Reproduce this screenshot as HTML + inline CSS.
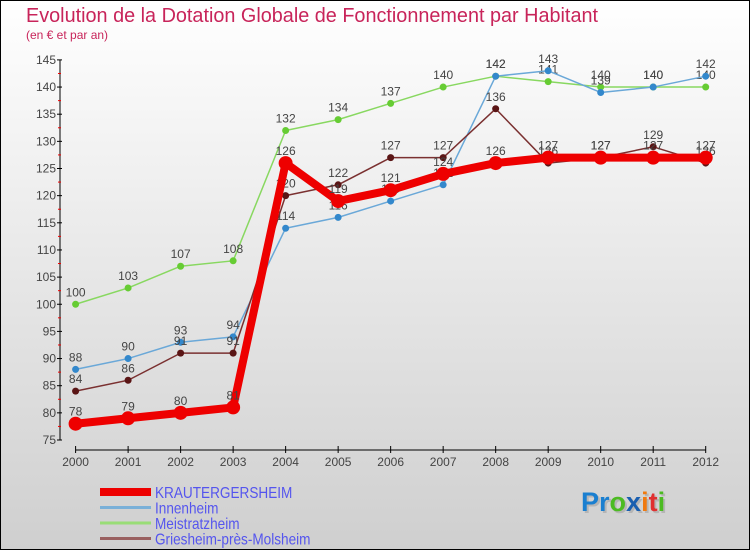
<!DOCTYPE html>
<html><head><meta charset="utf-8"><style>
body{margin:0;width:750px;height:550px;overflow:hidden;font-family:"Liberation Sans",sans-serif}
svg{display:block}
</style></head><body>
<svg width="750" height="550" xmlns="http://www.w3.org/2000/svg">
<defs><linearGradient id="bg" x1="0" y1="0" x2="0" y2="1"><stop offset="0" stop-color="#ffffff"/><stop offset="1" stop-color="#cfcfcf"/></linearGradient></defs>
<rect x="0.5" y="0.5" width="749" height="549" fill="url(#bg)" stroke="#000"/>
<text x="26" y="22" font-size="20" fill="#c8245a" textLength="572" lengthAdjust="spacingAndGlyphs">Evolution de la Dotation Globale de Fonctionnement par Habitant</text>
<text x="26" y="39" font-size="12" fill="#c8245a">(en € et par an)</text>
<g id="axes"></g><g id="series"></g><g id="legend"></g>
<text x="583" y="513" font-size="27" font-weight="bold" fill="#999" opacity="0.5">Proxiti</text>
<text x="581" y="511" font-size="27" font-weight="bold"><tspan fill="#1a7fd0">Pr</tspan><tspan fill="#4cbb22">o</tspan><tspan fill="#1a5fb0">x</tspan><tspan fill="#f07a10">i</tspan><tspan fill="#e03030">t</tspan><tspan fill="#4cbb22">i</tspan></text>
</svg>
<script>
const years=[2000,2001,2002,2003,2004,2005,2006,2007,2008,2009,2010,2011,2012];
const yTicks=[75,80,85,90,95,100,105,110,115,120,125,130,135,140,145];
const krautergersheim=[78,79,80,81,126,119,121,124,126,127,127,127,127];
const innenheim=[88,90,93,94,114,116,119,122,142,143,139,140,142];
const meistratzheim=[100,103,107,108,132,134,137,140,142,141,140,140,140];
const griesheim=[84,86,91,91,120,122,127,127,136,126,127,129,126];
const names=["KRAUTERGERSHEIM","Innenheim","Meistratzheim","Griesheim-près-Molsheim"];
const NS="http://www.w3.org/2000/svg";
const X=i=>75.6+i*(705.7-75.6)/(years.length-1);
const Y=v=>440-(v-75)*5.43;
function mk(t,a,p){const e=document.createElementNS(NS,t);for(const k in a)e.setAttribute(k,a[k]);p.appendChild(e);return e;}
const ax=document.getElementById('axes');
let l=mk('line',{x1:60,y1:Y(145),x2:60,y2:440,stroke:'#000'},ax);


l=mk('line',{x1:75.6,y1:450,x2:705.7,y2:450,stroke:'#000'},ax);


yTicks.forEach(v=>{
 mk('line',{x1:57,y1:Y(v),x2:62,y2:Y(v),stroke:'#000'},ax);
 if(v<145)mk('line',{x1:58,y1:Y(v+2.5),x2:61,y2:Y(v+2.5),stroke:'#e00'},ax);
 const t=mk('text',{x:56,y:Y(v)+4,'font-size':12,fill:'#444','text-anchor':'end'},ax);t.textContent=v;
 
 
});
years.forEach((y,i)=>{
 mk('line',{x1:X(i),y1:446,x2:X(i),y2:453,stroke:'#000'},ax);
 const t=mk('text',{x:X(i),y:466,'font-size':12,fill:'#444','text-anchor':'middle'},ax);t.textContent=y;
 
 
});
const sg=document.getElementById('series');
const defs=[[meistratzheim,'#88d860','#66cc33',1.5,3.5,'meistratzheim'],[innenheim,'#6aa8d8','#3388cc',1.5,3.5,'innenheim'],[griesheim,'#7a3030','#5a1515',1.5,3.5,'griesheim'],[krautergersheim,'#ee0000','#ee0000',8,7,'krautergersheim']];
defs.forEach(([d,c,mc,w,r,n])=>{
 const g=mk('g',{},sg);
 
 
 const p=mk('polyline',{points:d.map((v,i)=>X(i)+','+Y(v)).join(' '),fill:'none',stroke:c,'stroke-width':w,'stroke-linejoin':'round'},g);
 
 
 d.forEach((v,i)=>{
  const m=mk('circle',{cx:X(i),cy:Y(v),r:r,fill:mc},g);
  
  
  const t=mk('text',{x:X(i),y:Y(v)-8,'font-size':12,fill:'#444','text-anchor':'middle'},g);t.textContent=v;
  
  
 });
});
const lg=document.getElementById('legend');
const lc=['#ee0000','#7ab0d8','#99dd77','#996060'],lw=[8,3,3,3];
names.forEach((n,i)=>{
 const y=492+i*15.5;
 const g=mk('g',{},lg);
 
 
 mk('line',{x1:100,y1:y,x2:151,y2:y,stroke:lc[i],'stroke-width':lw[i]},g);
 const t=mk('text',{x:155,y:y+6,'font-size':16,fill:'#5555ee'},g);t.textContent=n;
 t.setAttribute('transform','translate(155,0) scale(0.85,1) translate(-155,0)');
});
</script>
</body></html>
